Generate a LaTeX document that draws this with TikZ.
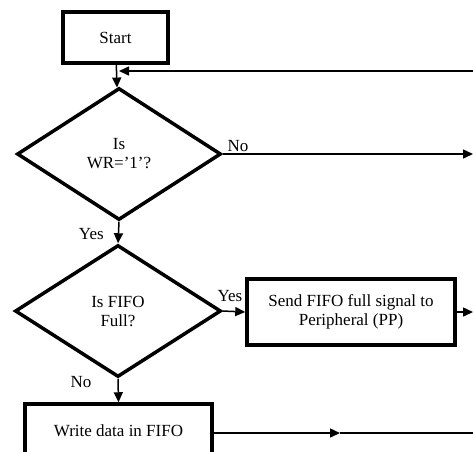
\documentclass[tikz,border=0pt]{standalone}
\usepackage{fontspec}
\setmainfont{Liberation Serif}
\usetikzlibrary{shapes.geometric,arrows.meta}
\tikzset{
  txt/.style={font=\fontsize{17}{19}\selectfont, align=center},
  procbox/.style={txt, draw, line width=3.5pt, rectangle, inner sep=0pt},
  decide/.style={txt, draw, line width=3.5pt, diamond, inner sep=0pt, minimum width=204pt, minimum height=132pt},
  flow/.style={line width=1.5pt, -{Triangle[length=10pt,width=9pt]}},
  lbl/.style={txt, inner sep=1pt}
}
\begin{document}
\begin{tikzpicture}[x=1pt,y=-1pt]
\useasboundingbox (0,0) rectangle (473,451);
\clip (0,0) rectangle (473,451);
\node[procbox, minimum width=105pt, minimum height=51pt] (start) at (115.5,37.5){Start};
\node[decide] (isWR) at (119,154){Is\\WR=’1’?};
\node[decide, minimum width=206pt] (isFull) at (118,311){Is FIFO\\Full?};
\node[procbox, minimum width=208pt, minimum height=66pt] (sendPP) at (351,312){Send FIFO full signal to\\Peripheral (PP)};
\node[procbox, minimum width=187pt, minimum height=54pt] (writeFIFO) at (118.5,431){Write data in FIFO};
\coordinate (loopR) at (480,71);
\coordinate (loopM) at (119,71);
\coordinate (noR) at (473,154);
\coordinate (ppR) at (473,312);
\coordinate (wrM) at (340,433);
\coordinate (wrR) at (480,433);
\draw[flow](start) -- (isWR);
\draw[flow](loopR) -- (loopM);
\draw[flow](isWR.east) -- (noR) node[lbl, pos=0, anchor=south west, xshift=3pt, yshift=1pt]{No};
\draw[flow](isWR.south) -- (isFull.north) node[lbl, pos=.55, anchor=east, xshift=-13pt]{Yes};
\draw[flow](isFull.east) -- (sendPP.west) node[lbl, pos=0, anchor=south west, xshift=-7pt, yshift=8pt]{Yes};
\draw[flow](sendPP.east) -- (ppR);
\draw[flow](isFull.south) -- (writeFIFO.north) node[lbl, pos=.15, anchor=east, xshift=-25pt]{No};
\draw[flow](writeFIFO.east |- wrM) -- (wrM);
\draw[line width=1.5pt](wrM) -- (wrR);
\end{tikzpicture}
\end{document}
